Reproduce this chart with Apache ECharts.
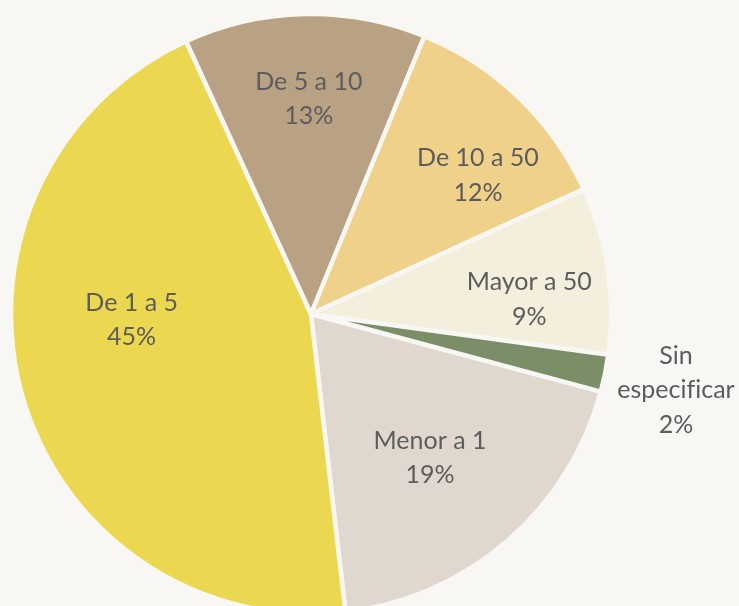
<!DOCTYPE html>
<html>
<head>
<meta charset="utf-8">
<script src="https://cdn.jsdelivr.net/npm/echarts@6/dist/echarts.min.js"></script>
<style>
  html, body { margin: 0; padding: 0; background: #f9f7f3; }
  #chart { width: 739px; height: 606px; }
</style>
</head>
<body>
<div id="chart"></div>
<script>
// Share of units by size bracket
const categories = ['Menor a 1', 'De 1 a 5', 'De 5 a 10', 'De 10 a 50', 'Mayor a 50', 'Sin especificar'];
const values = [19, 45, 13, 12, 9, 2];

// Slice fills, in the same order as the categories
const sliceColors = ['#e0d8ce', '#ecd850', '#b9a283', '#efd18a', '#f3efdc', '#7a8f68'];

// Fine placement of each label relative to its default inside anchor (px)
const labelShift = [[19, 28], [-32, -35], [1, -62], [61, -28], [67, 8], [215, 46]];

const bg = '#f9f7f3';

const chart = echarts.init(document.getElementById('chart'), null, { renderer: 'canvas' });

chart.setOption({
  backgroundColor: bg,
  animation: false,
  series: [{
    type: 'pie',
    center: [311, 314],
    radius: 300,
    startAngle: -15,
    clockwise: true,
    percentPrecision: 0,
    avoidLabelOverlap: false,
    itemStyle: { borderColor: bg, borderWidth: 4.5 },
    label: {
      show: true,
      position: 'inside',
      formatter: '{b}\n{d}%',
      color: '#5c5c5c',
      fontFamily: 'Lato',
      fontSize: 25,
      lineHeight: 34.5,
      align: 'center'
    },
    labelLine: { show: false },
    emphasis: { disabled: true },
    data: categories.map((name, i) => ({
      name: name,
      value: values[i],
      itemStyle: { color: sliceColors[i] },
      label: {
        offset: labelShift[i],
        // keep "f" and "i" as separate glyphs
        formatter: name === 'Sin especificar' ? 'Sin\nespecif\u200Cicar\n{d}%' : '{b}\n{d}%'
      }
    }))
  }]
});
</script>
</body>
</html>
